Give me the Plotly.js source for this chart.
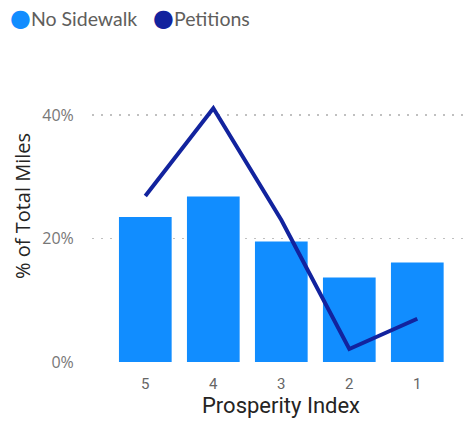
<!DOCTYPE html>
<html>
<head>
<meta charset="utf-8">
<script src="https://cdn.plot.ly/plotly-3.0.1.min.js"></script>
<style>html,body{margin:0;padding:0;background:#fff;}#chart{width:472px;height:427px;}</style>
</head>
<body>
<div id="chart"></div>
<script>
const categories = ['5', '4', '3', '2', '1'];
const noSidewalk = [0.235, 0.268, 0.195, 0.137, 0.161];
const petitions = [0.269, 0.411, 0.230, 0.021, 0.070];
const seriesNames = ['No Sidewalk', 'Petitions'];
const yTickVals = [0, 0.2, 0.4];
const yTickText = ['0%', '20%', '40%'];

const barColor = '#118DFF';
const lineColor = '#12239E';

function legendLabel(color, name) {
  return '<span style="color:' + color + ';font-size:24px;font-family:DejaVu Sans">●</span>' + name;
}

const traces = [
  {
    type: 'bar', x: categories, y: noSidewalk, name: seriesNames[0],
    marker: {color: barColor}, showlegend: false, hoverinfo: 'skip'
  },
  {
    type: 'scatter', mode: 'lines', x: categories, y: petitions, name: seriesNames[1],
    line: {color: lineColor, width: 4}, showlegend: false, hoverinfo: 'skip'
  },
  {
    type: 'scatter', mode: 'markers', x: [null], y: [null], name: legendLabel(barColor, seriesNames[0]),
    marker: {color: 'rgba(0,0,0,0)', size: 0, opacity: 0}, showlegend: true, legendwidth: 98
  },
  {
    type: 'scatter', mode: 'markers', x: [null], y: [null], name: legendLabel(lineColor, seriesNames[1]),
    marker: {color: 'rgba(0,0,0,0)', size: 0, opacity: 0}, showlegend: true, legendwidth: 160
  }
];

const layout = {
  width: 472, height: 427,
  margin: {l: 92, r: 2, t: 50, b: 65, autoexpand: false},
  paper_bgcolor: '#ffffff', plot_bgcolor: '#ffffff',
  bargap: 0.225,
  showlegend: true,
  legend: {
    orientation: 'h', x: -0.3228, xanchor: 'left', y: 1.162, yanchor: 'top',
    font: {family: 'Lato', size: 19.5, color: '#605E5C'},
    itemwidth: 30, tracegroupgap: 0
  },
  xaxis: {
    type: 'category', categoryorder: 'array', categoryarray: categories,
    range: [-0.784, 4.775],
    showgrid: false, zeroline: false, showline: false,
    ticks: 'outside', ticklen: 8, tickcolor: 'rgba(0,0,0,0)',
    tickfont: {family: 'Roboto', size: 15, color: '#666666'},
    title: {text: 'Prosperity Index', font: {family: 'Roboto', size: 22, color: '#252423'}, standoff: 2},
    automargin: false
  },
  yaxis: {
    range: [0, 0.5053],
    tickvals: yTickVals, ticktext: yTickText,
    showgrid: true, gridcolor: '#C0C0C0', griddash: '2px,7px', gridwidth: 1.5,
    zeroline: false, showline: false,
    ticks: 'outside', ticklen: 14, tickcolor: 'rgba(0,0,0,0)',
    tickfont: {family: 'Open Sans', size: 16, color: '#777777'},
    title: {text: '% of Total Miles', font: {family: 'Open Sans', size: 20, color: '#252423'}, standoff: 6},
    automargin: false
  }
};

Plotly.newPlot('chart', traces, layout, {displayModeBar: false, staticPlot: true});
</script>
</body>
</html>
